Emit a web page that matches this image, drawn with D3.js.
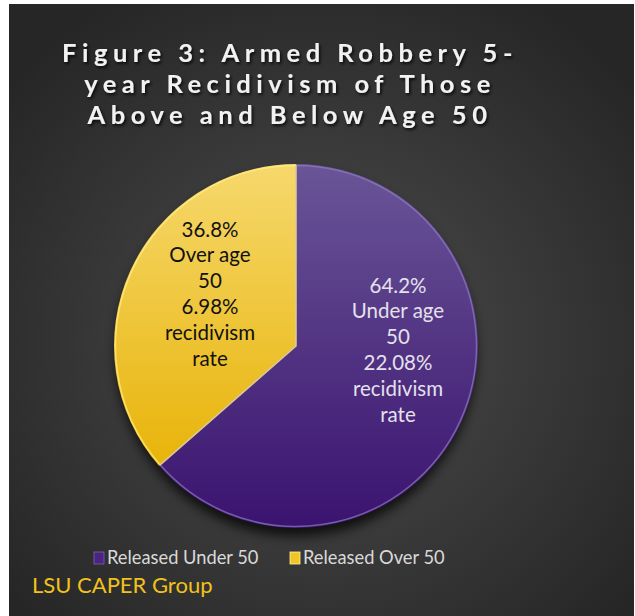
<!DOCTYPE html>
<html>
<head>
<meta charset="utf-8">
<script src="https://cdn.jsdelivr.net/npm/d3@7"></script>
<style>
  html, body { margin:0; padding:0; background:#fff; }
  svg { display:block; }
  text { font-family: Lato, "Open Sans", sans-serif; }
</style>
</head>
<body>
<div id="canvas"></div>
<script>
// data
var categories = ['Released Under 50', 'Released Over 50'];
var shares = [64.2, 36.8];
var ageText = ['Under age', 'Over age'];
var rates = ['22.08%', '6.98%'];
var titleLines = ['Figure 3: Armed Robbery 5-', 'year Recidivism of Those', 'Above and Below Age 50'];
var footer = 'LSU CAPER Group';

var W = 635, H = 616;
var svg = d3.select('#canvas').append('svg')
    .attr('width', W).attr('height', H);

var defs = svg.append('defs');

//background gradient
var bg = defs.append('radialGradient').attr('id','bg')
    .attr('cx','50%').attr('cy','55%').attr('r','65%');
bg.append('stop').attr('offset','0%').attr('stop-color','#4d4d4d');
bg.append('stop').attr('offset','100%').attr('stop-color','#262626');

var gPurple = defs.append('linearGradient').attr('id','gPurple')
    .attr('x1',0).attr('y1',0).attr('x2',0).attr('y2',1);
gPurple.append('stop').attr('offset','0%').attr('stop-color','#6a5597');
gPurple.append('stop').attr('offset','100%').attr('stop-color','#3a136f');

var gYellow = defs.append('linearGradient').attr('id','gYellow')
    .attr('x1',0).attr('y1',0).attr('x2',0).attr('y2',1);
gYellow.append('stop').attr('offset','0%').attr('stop-color','#f6d86c');
gYellow.append('stop').attr('offset','100%').attr('stop-color','#e8b40a');

var shadow = defs.append('filter').attr('id','shadow')
    .attr('x','-20%').attr('y','-20%').attr('width','140%').attr('height','140%');
shadow.append('feGaussianBlur').attr('stdDeviation',6);

var tshadow = defs.append('filter').attr('id','tshadow')
    .attr('x','-10%').attr('y','-30%').attr('width','120%').attr('height','160%');
tshadow.append('feDropShadow').attr('dx',1.5).attr('dy',2).attr('stdDeviation',1.5)
    .attr('flood-color','#000').attr('flood-opacity',0.8);

svg.append('rect').attr('x',9).attr('y',4).attr('width',W-10).attr('height',H-4)
    .attr('fill','url(#bg)');

//title
svg.append('g').selectAll('text')
    .data(titleLines).enter().append('text')
    .attr('x', 290)
    .attr('y', function(d,i){ return 62 + i*31; })
    .attr('text-anchor','middle')
    .attr('fill','#f2f2f2')
    .attr('font-size', 25.5)
    .attr('font-weight', 'bold')
    .attr('letter-spacing', 5.5)
    .attr('filter','url(#tshadow)')
    .text(function(d){ return d; });

//pie
var cx = 296, cy = 346, r = 182;
var colors = ['url(#gPurple)', 'url(#gYellow)'];
var swatch = ['#4a2483', '#f0c525'];
var rows = categories.map(function(c,i){
    return {name:c, share:shares[i], age:ageText[i], rate:rates[i]};
});

var pie = d3.pie().sort(null).value(function(d){ return d.share; });
var arc = d3.arc().innerRadius(0).outerRadius(r);
var arcs = pie(rows);

var plot = svg.append('g').attr('transform','translate('+cx+','+cy+')');

plot.append('ellipse').attr('cx',0).attr('cy',8).attr('rx',r-2).attr('ry',r)
    .attr('fill','#000').attr('opacity',0.75).attr('filter','url(#shadow)');

plot.selectAll('.slice')
    .data(arcs).enter().append('path')
    .attr('class','slice')
    .attr('d', arc)
    .attr('fill', function(d,i){ return colors[i]; });

//bevel-ish rims
plot.selectAll('.rim')
    .data(arcs).enter().append('path')
    .attr('class','rim')
    .attr('d', d3.arc().innerRadius(0).outerRadius(r-1.5))
    .attr('fill','none')
    .attr('stroke', function(d,i){ return i==0 ? '#8f7bc0' : '#fff08a'; })
    .attr('stroke-width', 1.5)
    .attr('stroke-opacity', 0.7);

//labels
var labelNudge = [[102, 4], [-86, -52]];
var labelColor = ['#e4e0ec', '#111'];
var labels = plot.selectAll('.lbl')
    .data(arcs).enter().append('text')
    .attr('class','lbl')
    .attr('text-anchor','middle')
    .attr('font-size', 20.5)
    .attr('fill', function(d,i){ return labelColor[i]; })
    .attr('transform', function(d,i){
        return 'translate('+labelNudge[i][0]+','+labelNudge[i][1]+')';
    });

labels.each(function(d){
    var lines = [d.data.share + '%', d.data.age, '50', d.data.rate, 'recidivism', 'rate'];
    var t = d3.select(this);
    lines.forEach(function(l,j){
        t.append('tspan').attr('x',0)
            .attr('y', (j - 2.5)*25.8 + 7)
            .text(l);
    });
});

//legend
var legendX = [94, 290];
var legend = svg.selectAll('.legend')
    .data(rows).enter().append('g')
    .attr('class','legend')
    .attr('transform', function(d,i){ return 'translate('+legendX[i]+',552)'; });
legend.append('rect').attr('width',10).attr('height',12)
    .attr('fill', function(d,i){ return swatch[i]; })
    .attr('stroke', function(d,i){ return i==0 ? '#7a63ad' : '#fff2a0'; })
    .attr('stroke-width',0.8);
legend.append('text').attr('x',13).attr('y',12)
    .attr('font-size', 18.3).attr('fill','#d9d9d9')
    .text(function(d){ return d.name; });

svg.append('text').attr('x',32).attr('y',593)
    .attr('font-size', 22).attr('fill','#f1c21b')
    .text(footer);
</script>
</body>
</html>
